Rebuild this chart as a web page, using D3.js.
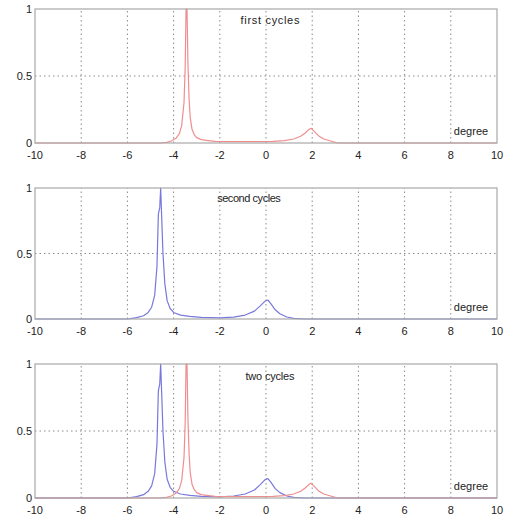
<!DOCTYPE html>
<html lang="en">
<head>
  <meta charset="UTF-8">
  <title>Cycles</title>
  <script src="https://d3js.org/d3.v7.min.js"></script>
  <style>
    body { margin: 0; background: #fff; }
    text { font-family: "Liberation Sans", Arial, sans-serif; font-size: 11px; fill: #222; }
    .frame { fill: none; stroke: #a8a8a8; stroke-width: 1.2px; }
    .grid line { stroke: #8a8a8a; stroke-dasharray: 1.5 3; }
    .curve { fill: none; stroke-width: 1.2px; stroke-linejoin: round; }
  </style>
</head>
<body>
  <svg width="507" height="523"></svg>
  <script>
    // first cycles (red)
    const firstX = [-10, -4.6, -4.3, -4.1, -3.9, -3.75, -3.65, -3.55, -3.5, -3.46, -3.42, -3.38, -3.33, -3.28, -3.2, -3.1, -3.0, -2.8, -2.5, -2.2, -1.5, -0.5, 0.3, 0.8, 1.2, 1.5, 1.7, 1.85, 1.95, 2.1, 2.3, 2.5, 2.8, 3.1, 10];
    const firstY = [0, 0, 0.005, 0.015, 0.035, 0.07, 0.13, 0.3, 0.55, 1.0, 1.0, 0.6, 0.33, 0.19, 0.1, 0.06, 0.04, 0.025, 0.018, 0.012, 0.01, 0.01, 0.012, 0.018, 0.03, 0.05, 0.075, 0.1, 0.11, 0.085, 0.05, 0.03, 0.015, 0, 0];

    // second cycles (blue)
    const secondX = [-10, -6.0, -5.6, -5.3, -5.1, -4.95, -4.82, -4.72, -4.66, -4.6, -4.56, -4.52, -4.46, -4.38, -4.28, -4.15, -4.0, -3.7, -3.3, -2.8, -2.0, -1.4, -0.9, -0.5, -0.25, -0.05, 0.08, 0.2, 0.4, 0.6, 0.9, 1.2, 1.7, 10];
    const secondY = [0, 0, 0.01, 0.025, 0.05, 0.09, 0.18, 0.4, 0.8, 0.85, 1.0, 0.8, 0.5, 0.27, 0.14, 0.08, 0.05, 0.03, 0.02, 0.012, 0.008, 0.015, 0.03, 0.06, 0.1, 0.135, 0.145, 0.12, 0.07, 0.04, 0.015, 0.005, 0, 0];

    const xTicks = [-10, -8, -6, -4, -2, 0, 2, 4, 6, 8, 10];
    const yTicks = [0, 0.5, 1];
    const yTickLabels = ["0", "0.5", "1"];

    const panels = [
      { title: "first cycles", titleX: 270, series: ["first"] },
      { title: "second cycles", titleX: 249, series: ["second"] },
      { title: "two cycles", titleX: 270, series: ["second", "first"] }
    ];
    const panelTops = [9, 188, 364];
    const panelBottoms = [143, 319, 498];
    const titleOffsets = [15, 14, 16];

    const seriesData = {
      first: { xs: firstX, ys: firstY, color: "#ef8e8e" },
      second: { xs: secondX, ys: secondY, color: "#7878dc" }
    };

    const svg = d3.select("svg");
    const x = d3.scaleLinear().domain([-10, 10]).range([35, 497]);

    panels.forEach((p, i) => {
      const y = d3.scaleLinear().domain([0, 1]).range([panelBottoms[i], panelTops[i]]);
      const g = svg.append("g");

      // dotted grid
      const grid = g.append("g").attr("class", "grid");
      grid.selectAll(".vx")
        .data(xTicks.slice(1, -1))
        .enter().append("line")
        .attr("x1", d => x(d)).attr("x2", d => x(d))
        .attr("y1", y(0)).attr("y2", y(1));
      grid.append("line")
        .attr("x1", x(-10)).attr("x2", x(10))
        .attr("y1", y(0.5)).attr("y2", y(0.5));

      // curves
      p.series.forEach(key => {
        const s = seriesData[key];
        const pts = s.xs.map((v, k) => [v, s.ys[k]]);
        g.append("path")
          .datum(pts)
          .attr("class", "curve")
          .attr("stroke", s.color)
          .attr("d", d3.line().x(d => x(d[0])).y(d => y(d[1])));
      });

      // frame
      g.append("rect")
        .attr("class", "frame")
        .attr("x", x(-10)).attr("y", y(1))
        .attr("width", x(10) - x(-10))
        .attr("height", y(0) - y(1));

      // axes labels
      g.selectAll(".xl")
        .data(xTicks)
        .enter().append("text")
        .attr("x", d => x(d))
        .attr("y", y(0) + 16)
        .attr("text-anchor", "middle")
        .text(d => d);

      g.selectAll(".yl")
        .data(yTicks)
        .enter().append("text")
        .attr("x", x(-10) - 3)
        .attr("y", d => y(d) + 4)
        .attr("text-anchor", "end")
        .text((d, k) => yTickLabels[k]);

      g.append("text")
        .attr("x", p.titleX)
        .attr("y", y(1) + titleOffsets[i])
        .attr("text-anchor", "middle")
        .attr("textLength", p.title.length * 4.9)
        .text(p.title);

      g.append("text")
        .attr("x", 471)
        .attr("y", y(0) - 8)
        .attr("text-anchor", "middle")
        .text("degree");
    });
  </script>
</body>
</html>
